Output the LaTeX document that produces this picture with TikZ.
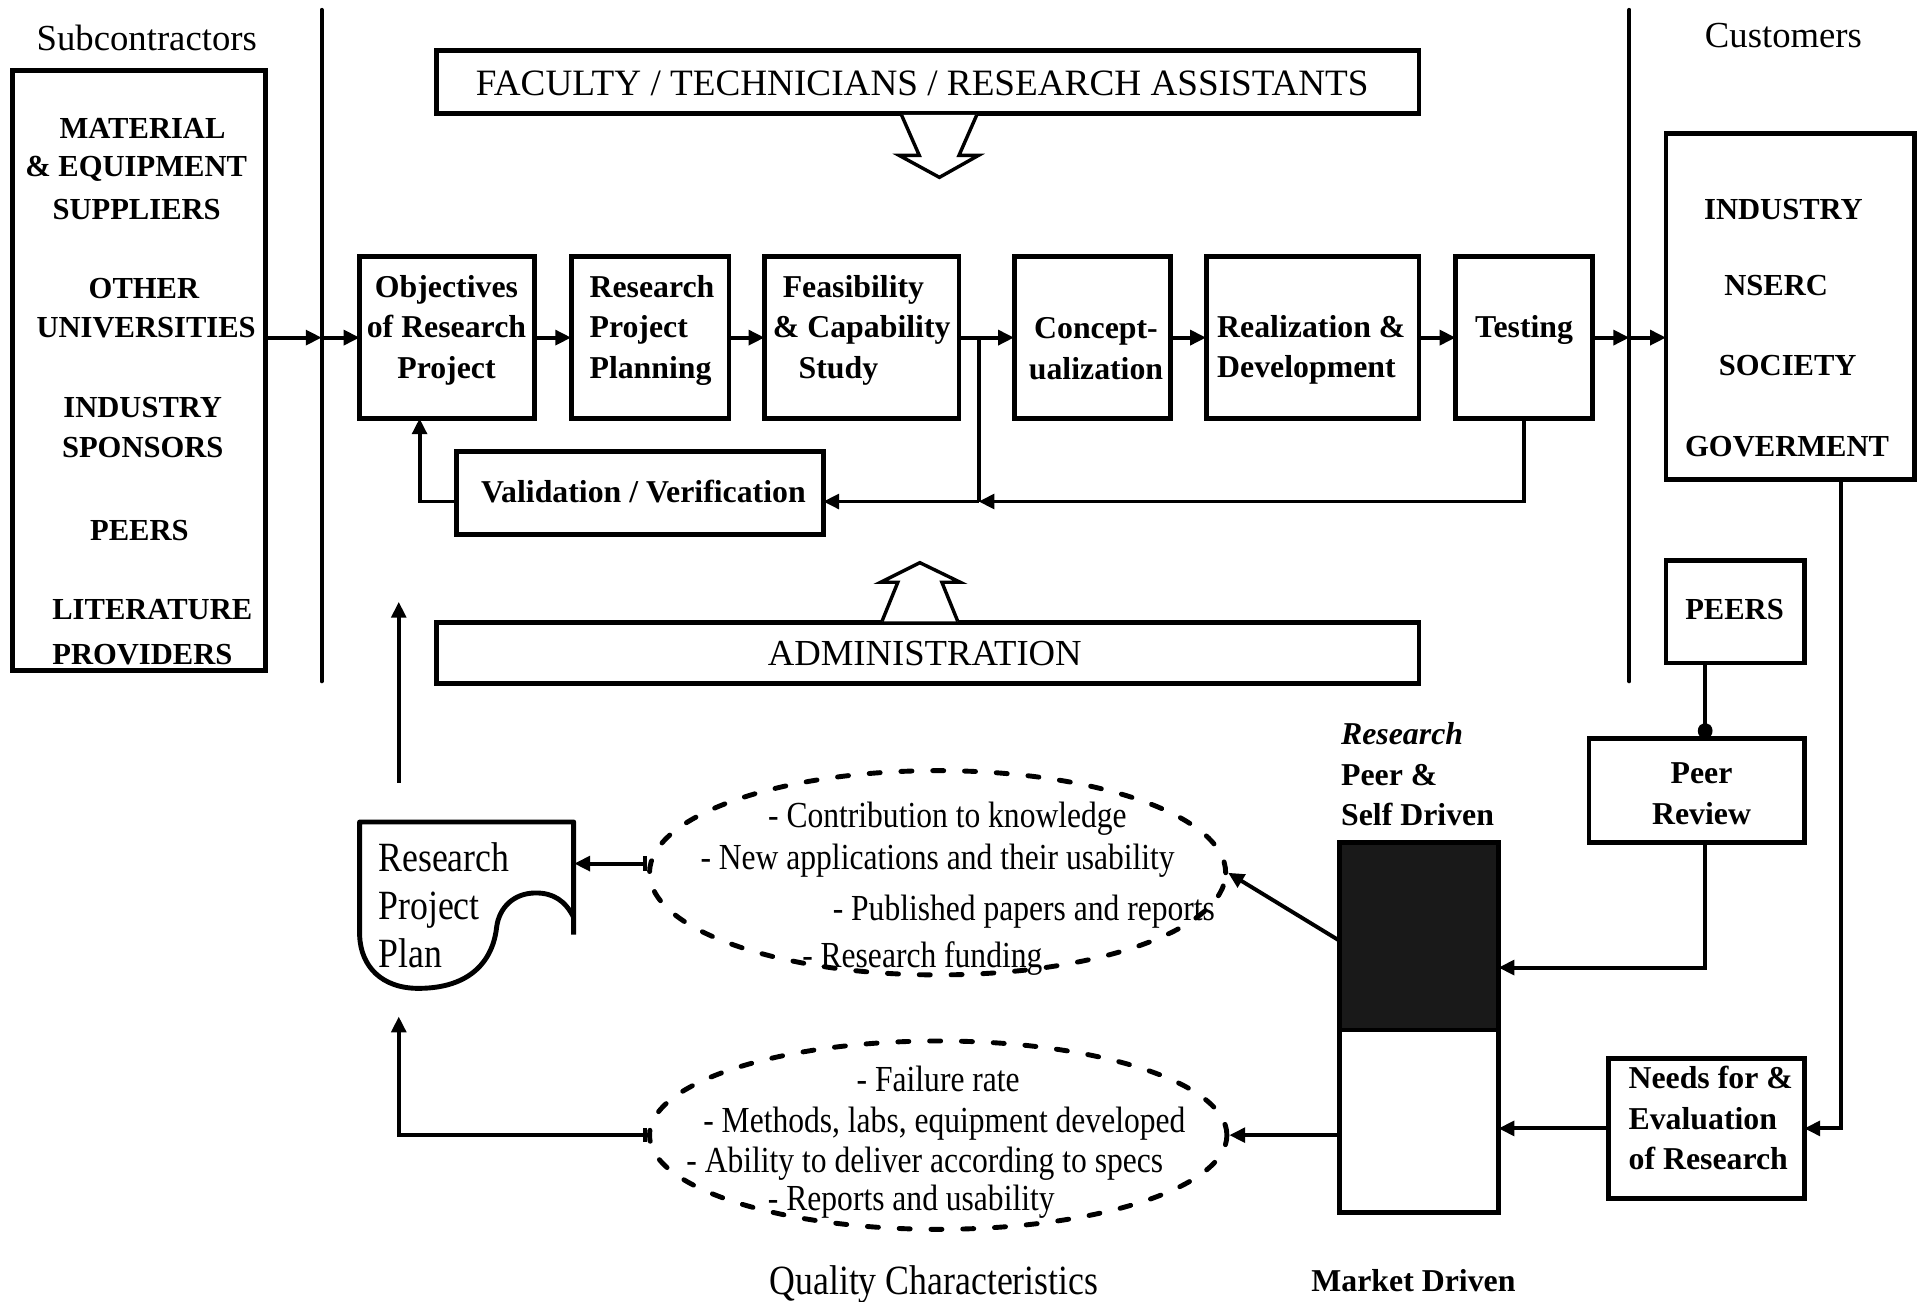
\documentclass[tikz,border=0pt]{standalone}
\usepackage{fontspec}
\setmainfont{Liberation Serif}
\newfontfamily\narrowserif[FakeStretch=0.86]{Liberation Serif}
\usetikzlibrary{arrows.meta,shapes.geometric,calc}

\begin{document}
\begin{tikzpicture}[x=0.5pt,y=-0.5pt,
  bx/.style={draw,line width=2pt,inner sep=0pt,outer sep=0pt},
  ln/.style={line width=1.6pt},
  arr/.style={ln,-{Triangle[length=6.5pt,width=6pt]}},
  tickarr/.style={ln,{Bar[width=6pt]}-{Triangle[length=6.5pt,width=6pt]}},
  dotarr/.style={ln,-{Circle[length=6.5pt,width=6pt]}},
  sepline/.style={line width=1.6pt,line cap=round},
  hollow/.style={line width=1.4pt,line join=miter,fill=white},
  dsh/.style={draw,ellipse,line width=2pt,dash pattern=on 4.5pt off 8.5pt,line cap=round,inner sep=0pt},
  rmtxt/.style={font=\fontsize{15}{18}\selectfont,inner sep=0pt},
  bftxt/.style={font=\fontsize{13}{16.5}\selectfont\bfseries,inner sep=0pt},
  captxt/.style={font=\fontsize{12.5}{16.5}\selectfont\bfseries,inner sep=0pt},
  nartxt/.style={font=\narrowserif\fontsize{15}{18}\selectfont,inner sep=0pt},
  bignar/.style={font=\narrowserif\fontsize{17}{19.5}\selectfont,inner sep=0pt},
]
\useasboundingbox (0,0) rectangle (1568,1064);

% ---------- separators between suppliers, university and customers
\coordinate (s1t) at (263,8);   \coordinate (s1b) at (263,557);
\coordinate (s2t) at (1332,8);  \coordinate (s2b) at (1332,557);
\draw[sepline] (s1t) -- (s1b);
\draw[sepline] (s2t) -- (s2b);

% ---------- subcontractors
\node[rmtxt] (subt) at (120,31) {Subcontractors};
\node[bx,minimum width=103.5pt,minimum height=245pt] (sub) at (113.5,303) {};
\node[captxt] (sl1) at (116.5,105) {MATERIAL};
\node[captxt] (sl2) at (111.3,138) {\& EQUIPMENT};
\node[captxt] (sl3) at (111.7,171) {SUPPLIERS};
\node[captxt] (sl4) at (117.7,235.5) {OTHER};
\node[captxt] (sl5) at (119.5,268) {UNIVERSITIES};
\node[captxt] (sl6) at (116.7,333) {INDUSTRY};
\node[captxt] (sl7) at (116.7,366) {SPONSORS};
\node[captxt] (sl8) at (114,433.5) {PEERS};
\node[captxt] (sl9) at (124.5,498) {LITERATURE};
\node[captxt] (sl10) at (116.4,535) {PROVIDERS};

% ---------- resources and administration
\node[bx,minimum width=401.5pt,minimum height=26pt] (fac) at (758.5,67) {};
\node[rmtxt,font=\fontsize{15.2}{18}\selectfont] (fact) at (754,68) {FACULTY / TECHNICIANS / RESEARCH ASSISTANTS};
\node[bx,minimum width=401.5pt,minimum height=25pt] (adm) at (758.5,534) {};
\node[rmtxt] (admt) at (756,534) {ADMINISTRATION};
\draw[hollow] (737,94) -- (751.5,127) -- (735,127) -- (768,145) -- (800,127) -- (784,127) -- (798.5,94);
\draw[hollow] (721,508) -- (734,476) -- (720,476) -- (752,460) -- (785,476) -- (770,476) -- (783,508);

% ---------- research process
\node[bx,minimum width=71.5pt,minimum height=66pt] (obj) at (365.5,276) {};
\node[bx,minimum width=64.5pt,minimum height=66pt] (rpp) at (531.5,276) {};
\node[bx,minimum width=79.5pt,minimum height=66pt] (fea) at (704.5,276) {};
\node[bx,minimum width=64pt,minimum height=66pt] (con) at (893,276) {};
\node[bx,minimum width=87pt,minimum height=66pt] (rea) at (1073,276) {};
\node[bx,minimum width=56pt,minimum height=66pt] (tes) at (1246,276) {};
\node[bx,minimum width=150pt,minimum height=34pt] (val) at (523,403) {};

\node[bftxt,align=center] (objt) at (365,270) {Objectives\\of Research\\Project};
\node[bftxt,align=left] (rppt) at (533,270) {Research\\Project\\Planning};
\node[bftxt,align=left] (feat) at (704.5,270) {\hspace*{4pt}Feasibility\\\& Capability\\\hspace*{10.5pt}Study};
\node[bftxt,align=center] (cont) at (896,285) {Concept-\\ualization};
\node[bftxt,align=left] (reat) at (1072,286) {Realization \&\\Development};
\node[bftxt] (test) at (1246,270) {Testing};
\node[bftxt] (valt) at (526,401.5) {Validation / Verification};

\coordinate (lx) at (263,276);
\coordinate (rx) at (1332,276);
\draw[arr] (sub.east |- obj.west) -- (lx);
\draw[arr] (lx) -- (obj.west);
\draw[arr] (obj) -- (rpp);
\draw[arr] (rpp) -- (fea);
\draw[arr] (fea) -- (con);
\draw[arr] (con) -- (rea);
\draw[arr] (rea) -- (tes);
\draw[arr] (tes) -- (rx);

% feedback loop
\coordinate (fj) at (800,410);
\coordinate (ox) at (343,0);
\draw[arr] (tes.south) |- (fj);
\draw[ln] (fea.east -| fj) -- (fj);
\draw[arr] (fj) -- (val.east |- fj);
\draw[arr] (val.west |- fj) -| (obj.south -| ox);

% ---------- customers
\node[rmtxt] (cust) at (1458,29) {Customers};
\node[bx,minimum width=101.5pt,minimum height=141.5pt] (cus) at (1463.5,250.5) {};
\node[captxt] (cl1) at (1458,171.5) {INDUSTRY};
\node[captxt] (cl2) at (1452,233.5) {NSERC};
\node[captxt] (cl3) at (1461.5,299) {SOCIETY};
\node[captxt] (cl4) at (1461,365) {GOVERMENT};
\draw[arr] (rx) -- (cus.west |- rx);

\node[bx,minimum width=56.5pt,minimum height=42pt] (peers) at (1418.5,500) {};
\node[captxt] (peerst) at (1418,498.5) {PEERS};
\node[bx,minimum width=88pt,minimum height=42.5pt] (prv) at (1387,646.5) {};
\node[bftxt,align=center] (prvt) at (1391,649) {Peer\\Review};
\node[bx,minimum width=80pt,minimum height=57.5pt] (need) at (1395,922.5) {};
\node[bftxt,align=left,anchor=west] (needt) at (1331,914) {Needs for \&\\Evaluation\\of Research};

% ---------- research drivers bar
\node[bx,fill=black!90,minimum width=65pt,minimum height=76.5pt] (barup) at (1160,765.5) {};
\node[bx,fill=white,minimum width=65pt,minimum height=74.5pt] (barlo) at (1160,916.5) {};
\node[bftxt,align=left,anchor=west] (bart) at (1096,633) {\textit{Research}\\Peer \&\\Self Driven};
\node[bftxt] (mkt) at (1155.5,1047) {Market Driven};

\coordinate (px) at (1394,0);
\coordinate (py) at (0,791);
\coordinate (cx) at (1505,0);
\coordinate (dy) at (0,769);
\draw[dotarr] (peers.south -| px) -- (prv.north -| px);
\draw[arr] (prv.south -| px) |- (barup.east |- py);
\draw[arr] (cus.south -| cx) |- (need.east);
\draw[arr] (need.west) -- (barlo.east |- need.west);

% ---------- quality characteristics
\node[dsh,minimum width=235.5pt,minimum height=83.5pt] (ell1) at (766.5,713.5) {};
\node[dsh,minimum width=236pt,minimum height=77pt] (ell2) at (767,928) {};
\node[nartxt] (q1) at (774.5,669) {- Contribution to knowledge};
\node[nartxt] (q2) at (766.5,704) {- New applications and their usability};
\node[nartxt] (q3) at (837,745) {- Published papers and reports};
\node[nartxt] (q4) at (754,784) {- Research funding};
\node[nartxt] (q5) at (767,882) {- Failure rate};
\node[nartxt] (q6) at (772,918.5) {- Methods, labs, equipment developed};
\node[nartxt] (q7) at (756,951) {- Ability to deliver according to specs};
\node[nartxt] (q8) at (745,982.5) {- Reports and usability};
\node[bignar] (qual) at (763.5,1050) {Quality Characteristics};

\draw[arr] (barup.west |- dy) -- (ell1.east);
\draw[arr] (barlo.west |- ell2.east) -- (ell2.east);

% ---------- research project plan (document symbol)
\node[minimum width=87.5pt,minimum height=68.5pt,inner sep=0pt] (doc) at (381.5,740.5) {};
\draw[line width=2pt,line join=round]
  (469,764) -- (469,672) -- (294,672) -- (294,765)
  .. controls (295,790) and (312,808) .. (342,808)
  .. controls (385,808) and (403,785) .. (406,758)
  .. controls (408,742) and (420,730) .. (438,730)
  .. controls (452,730) and (462,736) .. (469,750);
\node[bignar,align=left,anchor=west] (doct) at (309,740) {Research\\Project\\Plan};

\coordinate (ay) at (0,706);
\coordinate (lp) at (326,831);
\coordinate (ua) at (326,640);
\coordinate (ub) at (326,492);
\draw[tickarr] (ell1.west |- ay) -- (doc.east |- ay);
\draw[tickarr] (ell2.west) -| (lp);
\draw[arr] (ua) -- (ub);

\end{tikzpicture}
\end{document}
